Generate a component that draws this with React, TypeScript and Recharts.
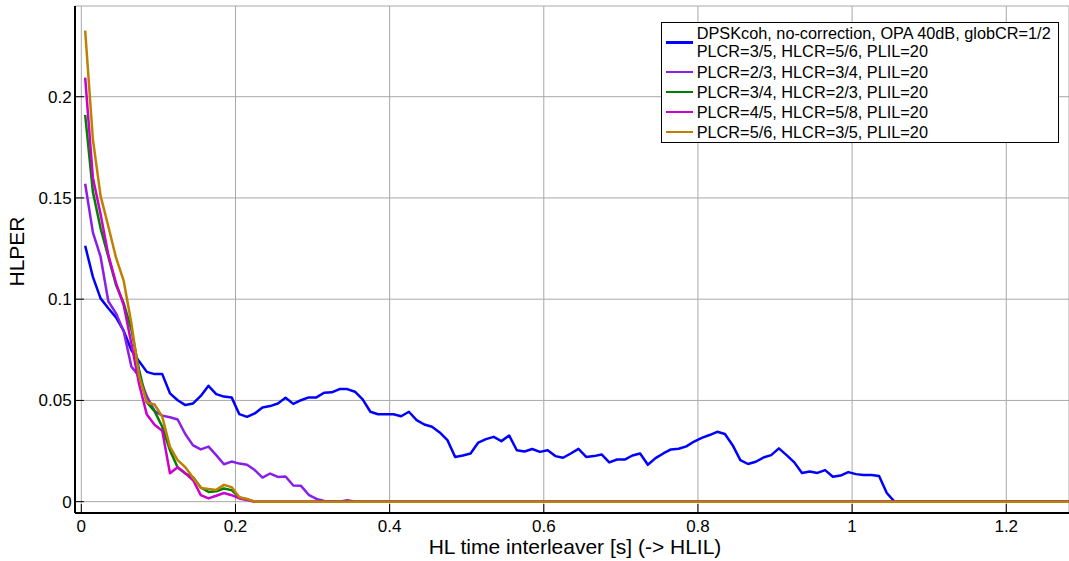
import React from 'react';
import { LineChart, Line, XAxis, YAxis, CartesianGrid, Legend } from 'recharts';

const FONT = '"Liberation Sans", Arial, Helvetica, sans-serif';

// sample times [s]
const TIMES = [
  0.005, 0.015, 0.025, 0.035, 0.045, 0.055, 0.065, 0.075, 0.085, 0.095,
  0.105, 0.115, 0.125, 0.135, 0.145, 0.155, 0.165, 0.175, 0.185, 0.195,
  0.205, 0.215, 0.225, 0.235, 0.245, 0.255, 0.265, 0.275, 0.285, 0.295,
  0.305, 0.315, 0.325, 0.335, 0.345, 0.355, 0.365, 0.375, 0.385, 0.395,
  0.405, 0.415, 0.425, 0.435, 0.445, 0.455, 0.465, 0.475, 0.485, 0.495,
  0.505, 0.515, 0.525, 0.535, 0.545, 0.555, 0.565, 0.575, 0.585, 0.595,
  0.605, 0.615, 0.625, 0.635, 0.645, 0.655, 0.665, 0.675, 0.685, 0.695,
  0.705, 0.715, 0.725, 0.735, 0.745, 0.755, 0.765, 0.775, 0.785, 0.795,
  0.805, 0.815, 0.825, 0.835, 0.845, 0.855, 0.865, 0.875, 0.885, 0.895,
  0.905, 0.915, 0.925, 0.935, 0.945, 0.955, 0.965, 0.975, 0.985, 0.995,
  1.005, 1.015, 1.025, 1.035, 1.045, 1.055,
];
const X_END = 1.285;
const Y_END = 0;

const BLUE = [
  0.1264, 0.111, 0.1004, 0.0955, 0.091, 0.0843, 0.0748, 0.0693, 0.0641, 0.063,
  0.063, 0.0535, 0.0501, 0.0477, 0.0485, 0.0522, 0.0572, 0.0531, 0.0519, 0.0515,
  0.0432, 0.0419, 0.0436, 0.0465, 0.0472, 0.0485, 0.0513, 0.0483, 0.0501, 0.0515,
  0.0515, 0.0538, 0.054, 0.0556, 0.0556, 0.0543, 0.0505, 0.0444, 0.0432, 0.0432,
  0.0432, 0.0422, 0.0444, 0.0403, 0.0381, 0.037, 0.0342, 0.0304, 0.0221, 0.0228,
  0.0238, 0.0292, 0.0309, 0.032, 0.0299, 0.0327, 0.0254, 0.0248, 0.026, 0.0246,
  0.0254, 0.0225, 0.0217, 0.0238, 0.0261, 0.0221, 0.0225, 0.0233, 0.0194, 0.0208,
  0.0208, 0.0228, 0.0238, 0.0182, 0.0215, 0.0238, 0.0258, 0.0261, 0.0273, 0.0297,
  0.0315, 0.0329, 0.0345, 0.0334, 0.0279, 0.0205, 0.0186, 0.0197, 0.0218, 0.023,
  0.0263, 0.023, 0.0194, 0.0142, 0.0149, 0.0142, 0.0156, 0.0123, 0.0129, 0.0146,
  0.0136, 0.0132, 0.0132, 0.0127, 0.0043, 0,
];
const PURPLE = [
  0.157, 0.133, 0.121, 0.099, 0.093, 0.084, 0.0666, 0.062, 0.052, 0.0448,
  0.0425, 0.0417, 0.0406, 0.0333, 0.0278, 0.0258, 0.0272, 0.023, 0.0185, 0.0198,
  0.0188, 0.0182, 0.0156, 0.0119, 0.0139, 0.0122, 0.0124, 0.008, 0.0078, 0.0034,
  0.0014, 0.0003, 0.0002, 0, 0.0007, 0,
];
const GREEN = [
  0.191, 0.153, 0.135, 0.121, 0.107, 0.098, 0.085, 0.065, 0.049, 0.0447,
  0.037, 0.0254, 0.0169, 0.0139, 0.012, 0.007, 0.0048, 0.0051, 0.0065, 0.0057,
  0.0021, 0.0011, 0,
];
const MAGENTA = [
  0.2094, 0.16, 0.142, 0.122, 0.108, 0.097, 0.078, 0.058, 0.043, 0.038,
  0.035, 0.014, 0.017, 0.014, 0.0106, 0.0032, 0.0016, 0.0029, 0.0043, 0.0032,
  0.0016, 0.0008, 0,
];
const ORANGE = [
  0.2326, 0.179, 0.151, 0.136, 0.1205, 0.109, 0.088, 0.062, 0.049, 0.048,
  0.042, 0.0271, 0.0205, 0.017, 0.0118, 0.0068, 0.0062, 0.0058, 0.0083, 0.0072,
  0.0022, 0.0013, 0,
];

const SERIES_NAMES = [
  ['DPSKcoh, no-correction, OPA 40dB, globCR=1/2', 'PLCR=3/5, HLCR=5/6, PLIL=20'],
  ['PLCR=2/3, HLCR=3/4, PLIL=20'],
  ['PLCR=3/4, HLCR=2/3, PLIL=20'],
  ['PLCR=4/5, HLCR=5/8, PLIL=20'],
  ['PLCR=5/6, HLCR=3/5, PLIL=20'],
];
const SERIES_VALUES = [BLUE, PURPLE, GREEN, MAGENTA, ORANGE];
const SERIES_COLORS = ['#0000ff', '#8a1ee8', '#008000', '#cc00cc', '#bf8000'];

const X_TICKS = [0, 0.2, 0.4, 0.6, 0.8, 1, 1.2];
const Y_TICKS = [0, 0.05, 0.1, 0.15, 0.2];
const X_DOMAIN = [-0.0082, 1.2814];
const Y_DOMAIN = [-0.0056, 0.2448];

const X_LABEL = 'HL time interleaver [s] (-> HLIL)';
const Y_LABEL = 'HLPER';

const toData = (values: number[]) =>
  values.map((y, i) => ({ x: TIMES[i], y })).concat([{ x: X_END, y: Y_END }]);

const LegendBox = () => (
  <div
    style={{
      width: 398,
      height: 121,
      boxSizing: 'border-box',
      border: '1px solid #000',
      background: '#fff',
      fontFamily: FONT,
      fontSize: 16.3,
      color: '#000',
      paddingTop: 1,
    }}
  >
    {SERIES_NAMES.map((lines, i) => (
      <div
        key={i}
        style={{
          position: 'relative',
          paddingLeft: 34.7,
          marginTop: i === 1 ? 1 : 0,
          lineHeight: lines.length > 1 ? '18.4px' : '20px',
          whiteSpace: 'nowrap',
        }}
      >
        <div
          style={{
            position: 'absolute',
            left: 4,
            width: 27,
            height: 2.5,
            top: '50%',
            marginTop: -1.25,
            background: SERIES_COLORS[i],
          }}
        />
        {lines.map((t, j) => (
          <div key={j}>{t}</div>
        ))}
      </div>
    ))}
  </div>
);

export default function App() {
  return (
    <div style={{ position: 'absolute', left: 0, top: 0, background: '#fff' }}>
      <LineChart width={1069} height={561} margin={{ top: 6, right: 0, bottom: 0, left: 0 }}>
        <CartesianGrid stroke="#a8a8a8" strokeWidth={1} />
        <XAxis
          dataKey="x"
          type="number"
          domain={X_DOMAIN}
          allowDataOverflow
          ticks={X_TICKS}
          interval={0}
          height={48}
          tickSize={-9}
          tickMargin={15.5}
          tick={{ fontSize: 17, fill: '#000', fontFamily: FONT }}
          tickLine={{ stroke: '#000', strokeWidth: 1 }}
          axisLine={{ stroke: '#000', strokeWidth: 2 }}
          label={{
            value: X_LABEL,
            position: 'insideBottom',
            offset: 7.5,
            dx: 3,
            fontSize: 21,
            fill: '#000',
            fontFamily: FONT,
          }}
        />
        <XAxis
          xAxisId="top"
          orientation="top"
          dataKey="x"
          type="number"
          domain={X_DOMAIN}
          allowDataOverflow
          ticks={X_TICKS}
          interval={0}
          height={0}
          tickSize={-9}
          tick={false}
          tickLine={{ stroke: '#000', strokeWidth: 1 }}
          axisLine={{ stroke: '#000', strokeWidth: 2 }}
        />
        <YAxis
          type="number"
          domain={Y_DOMAIN}
          allowDataOverflow
          ticks={Y_TICKS}
          interval={0}
          width={75}
          tickSize={-9}
          tickMargin={12.3}
          tick={{ fontSize: 17, fill: '#000', fontFamily: FONT }}
          tickLine={{ stroke: '#000', strokeWidth: 1 }}
          axisLine={{ stroke: '#000', strokeWidth: 2 }}
          label={{
            value: Y_LABEL,
            position: 'center',
            angle: -90,
            dx: -20.5,
            dy: -8,
            fontSize: 21,
            fill: '#000',
            fontFamily: FONT,
          }}
        />
        <Legend
          layout="horizontal"
          verticalAlign="middle"
          align="center"
          wrapperStyle={{ position: 'absolute', left: 661, top: 22, width: 398, height: 121 }}
          content={() => <LegendBox />}
        />
        {SERIES_VALUES.map((vals, i) => (
          <Line
            key={i}
            data={toData(vals)}
            dataKey="y"
            name={SERIES_NAMES[i].join(' ')}
            type="linear"
            stroke={SERIES_COLORS[i]}
            strokeWidth={2.5}
            strokeLinejoin="round"
            dot={false}
            activeDot={false}
            isAnimationActive={false}
          />
        ))}
      </LineChart>
    </div>
  );
}
